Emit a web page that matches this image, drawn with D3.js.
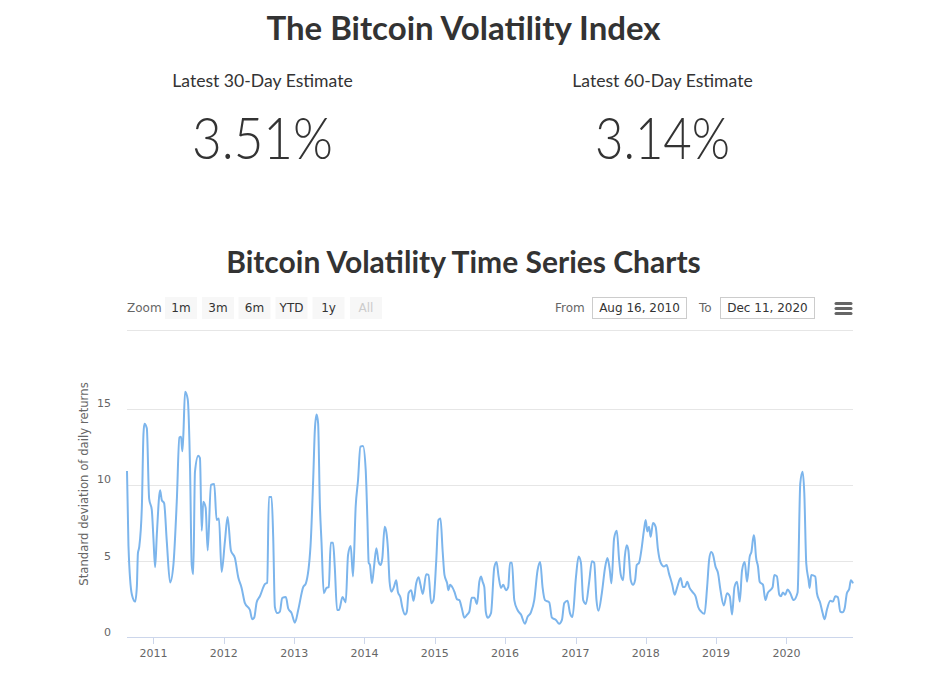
<!DOCTYPE html>
<html><head><meta charset="utf-8">
<script src="https://cdn.jsdelivr.net/npm/d3@7"></script>
<style>
html,body{margin:0;padding:0;background:#fff;}
svg{display:block;}
</style></head>
<body>
<svg id="c" width="940" height="674"></svg>
<script>
// ---- data (decimal year, 30-day volatility %) ----
const years = [2010.624,2010.645,2010.694,2010.740,2010.765,2010.779,2010.797,2010.835,2010.858,2010.872,2010.906,2010.939,2010.977,2011.000,2011.024,2011.048,2011.095,2011.119,2011.152,2011.190,2011.237,2011.284,2011.332,2011.369,2011.393,2011.411,2011.426,2011.450,2011.488,2011.521,2011.545,2011.567,2011.591,2011.638,2011.662,2011.687,2011.709,2011.743,2011.772,2011.818,2011.865,2011.899,2011.932,2011.970,2012.017,2012.055,2012.102,2012.159,2012.206,2012.254,2012.301,2012.372,2012.404,2012.433,2012.467,2012.513,2012.584,2012.617,2012.641,2012.679,2012.702,2012.726,2012.759,2012.797,2012.830,2012.882,2012.915,2012.963,2013.010,2013.057,2013.128,2013.166,2013.233,2013.270,2013.294,2013.318,2013.340,2013.365,2013.389,2013.421,2013.460,2013.492,2013.520,2013.553,2013.577,2013.610,2013.638,2013.687,2013.733,2013.766,2013.804,2013.837,2013.875,2013.908,2013.942,2013.979,2014.017,2014.041,2014.060,2014.078,2014.106,2014.135,2014.169,2014.201,2014.230,2014.254,2014.287,2014.311,2014.333,2014.357,2014.382,2014.414,2014.452,2014.475,2014.513,2014.537,2014.580,2014.603,2014.627,2014.665,2014.698,2014.736,2014.769,2014.797,2014.830,2014.878,2014.911,2014.949,2014.982,2015.020,2015.052,2015.081,2015.113,2015.138,2015.176,2015.194,2015.218,2015.255,2015.279,2015.318,2015.350,2015.383,2015.421,2015.460,2015.492,2015.525,2015.563,2015.601,2015.634,2015.658,2015.681,2015.705,2015.726,2015.752,2015.800,2015.847,2015.879,2015.908,2015.942,2015.974,2016.013,2016.045,2016.070,2016.098,2016.131,2016.177,2016.226,2016.282,2016.319,2016.367,2016.414,2016.461,2016.499,2016.532,2016.566,2016.627,2016.665,2016.722,2016.769,2016.807,2016.840,2016.887,2016.921,2016.957,2017.006,2017.043,2017.077,2017.109,2017.148,2017.194,2017.233,2017.265,2017.298,2017.326,2017.374,2017.421,2017.454,2017.488,2017.511,2017.549,2017.587,2017.620,2017.644,2017.677,2017.701,2017.729,2017.752,2017.786,2017.818,2017.847,2017.871,2017.904,2017.936,2017.974,2017.998,2018.021,2018.045,2018.069,2018.102,2018.140,2018.173,2018.211,2018.258,2018.296,2018.329,2018.376,2018.410,2018.447,2018.495,2018.528,2018.556,2018.589,2018.623,2018.660,2018.708,2018.745,2018.787,2018.835,2018.872,2018.901,2018.929,2018.957,2018.991,2019.028,2019.062,2019.109,2019.156,2019.194,2019.227,2019.261,2019.298,2019.336,2019.369,2019.407,2019.440,2019.478,2019.502,2019.535,2019.549,2019.567,2019.596,2019.620,2019.667,2019.701,2019.733,2019.771,2019.804,2019.828,2019.865,2019.899,2019.922,2019.950,2019.984,2020.017,2020.055,2020.102,2020.159,2020.197,2020.230,2020.254,2020.282,2020.315,2020.329,2020.353,2020.410,2020.433,2020.481,2020.514,2020.542,2020.574,2020.623,2020.660,2020.694,2020.730,2020.765,2020.797,2020.826,2020.858,2020.892,2020.915,2020.945];
const vol30 = [10.9,6.0,2.8,2.35,3.4,5.5,5.9,8.5,13.3,14.0,13.7,9.1,8.35,6.5,4.6,6.7,9.65,9.0,8.8,6.3,3.6,4.75,8.9,13.1,13.15,12.2,13.3,16.1,15.6,11.1,4.75,4.15,10.85,11.9,11.75,7.0,8.9,8.5,5.7,10.0,10.05,7.7,7.8,4.3,6.3,7.9,5.7,5.2,3.95,3.25,2.25,1.8,1.2,1.3,2.3,2.7,3.5,3.6,9.2,9.2,6.6,2.0,1.6,1.7,2.6,2.65,1.9,1.6,0.97,1.8,3.3,3.55,6.05,10.3,13.6,14.6,14.05,8.8,6.2,2.9,3.25,3.3,6.2,6.2,4.65,1.8,1.8,2.65,2.3,5.4,6.0,4.0,8.6,10.3,12.5,12.55,11.0,7.8,4.9,4.75,3.55,4.6,5.85,4.95,4.75,5.2,7.25,6.9,5.85,3.65,3.0,3.25,3.75,3.0,2.6,2.0,1.5,1.7,2.9,3.1,2.4,3.55,3.95,3.45,2.85,4.15,4.1,2.25,2.45,4.95,7.7,7.8,5.6,4.1,3.55,3.1,3.45,3.25,3.0,2.5,2.45,1.95,1.3,1.5,1.7,2.6,2.6,2.2,3.65,4.0,3.65,3.3,1.7,1.3,1.6,4.6,4.95,4.0,3.25,3.45,3.1,3.3,4.9,4.9,2.45,1.8,1.5,0.9,1.35,1.65,2.45,4.4,4.95,3.3,2.45,2.3,1.3,1.15,0.9,1.15,2.25,2.4,1.6,1.35,3.95,5.3,4.9,2.45,2.2,3.65,5.0,4.9,2.45,1.75,2.9,4.6,5.2,4.4,3.55,6.5,7.0,5.1,4.1,3.75,5.3,6.05,5.7,3.75,3.45,3.75,4.75,4.9,5.7,7.05,7.7,6.95,7.25,6.6,7.5,7.25,5.75,4.9,4.65,4.75,4.2,3.45,2.8,3.3,3.9,3.3,3.3,3.65,3.25,3.0,2.7,2.0,1.7,1.55,3.3,5.1,5.6,5.4,4.65,4.2,3.1,2.1,2.9,2.7,1.5,3.3,3.65,2.35,4.4,4.95,3.65,5.3,5.6,6.7,6.4,5.3,4.65,3.65,3.45,2.45,2.9,3.1,3.3,4.1,4.0,2.8,2.7,2.95,2.8,3.15,2.9,2.45,2.95,10.1,10.85,9.45,4.85,3.75,3.25,4.1,4.0,2.9,2.25,1.6,1.2,1.8,2.4,2.35,2.7,2.65,1.7,1.65,1.9,2.9,3.2,3.75,3.55];
const yTicks = [0,5,10,15];
const xTickYears = [2011,2012,2013,2014,2015,2016,2017,2018,2019,2020];
const zoomButtons = ["1m","3m","6m","YTD","1y","All"];
const fromDate = "Aug 16, 2010";
const toDate = "Dec 11, 2020";
const estimates = [{label:"Latest 30-Day Estimate", value:"3.51%"},{label:"Latest 60-Day Estimate", value:"3.14%"}];

function decToDate(d){
  const y = Math.floor(d);
  const s = new Date(y,0,1), e = new Date(y+1,0,1);
  return new Date(s.getTime() + (d - y) * (e - s));
}
const data = years.map((y,i)=>({date:decToDate(y), v:vol30[i]}));

const svg = d3.select("#c");
const headFont = "Lato, 'Open Sans', sans-serif";
const hcFont = "'DejaVu Sans', 'Lucida Grande', sans-serif";

svg.append("text").attr("x",463.5).attr("y",40).attr("text-anchor","middle")
  .attr("font-family",headFont).attr("font-weight",700).attr("font-size",33).attr("fill","#333")
  .text("The Bitcoin Volatility Index");

const estX = [262.5,662.5];
const valW = [141,135];
estimates.forEach((e,i)=>{
  svg.append("text").attr("x",estX[i]).attr("y",87).attr("text-anchor","middle")
    .attr("font-family",headFont).attr("font-size",17.6).attr("fill","#333").text(e.label);
  svg.append("text").attr("x",estX[i]).attr("y",159).attr("text-anchor","middle")
    .attr("font-family",headFont).attr("font-weight",300).attr("font-size",58).attr("fill","#333")
    .attr("textLength",valW[i]).attr("lengthAdjust","spacingAndGlyphs").text(e.value);
});

svg.append("text").attr("x",463.5).attr("y",273).attr("text-anchor","middle")
  .attr("font-family",headFont).attr("font-weight",700).attr("font-size",30).attr("fill","#333")
  .text("Bitcoin Volatility Time Series Charts");

// range selector
svg.append("text").attr("x",127).attr("y",312).attr("font-family",hcFont).attr("font-size",12).attr("fill","#666").text("Zoom");
const btnX = [165,202,238.5,275.5,312.5,350];
zoomButtons.forEach((b,i)=>{
  svg.append("rect").attr("x",btnX[i]).attr("y",297).attr("width",32).attr("height",22).attr("fill","#f7f7f7");
  svg.append("text").attr("x",btnX[i]+16).attr("y",312).attr("text-anchor","middle").attr("font-family",hcFont)
    .attr("font-size",12).attr("fill", b==="All" ? "#ccc" : "#333").text(b);
});
svg.append("text").attr("x",555).attr("y",312).attr("font-family",hcFont).attr("font-size",12).attr("fill","#666").text("From");
svg.append("rect").attr("x",592.5).attr("y",297.5).attr("width",94).attr("height",21).attr("fill","#fff").attr("stroke","#ccc");
svg.append("text").attr("x",639.5).attr("y",312).attr("text-anchor","middle").attr("font-family",hcFont).attr("font-size",12).attr("fill","#333").text(fromDate);
svg.append("text").attr("x",699).attr("y",312).attr("font-family",hcFont).attr("font-size",12).attr("fill","#666").text("To");
svg.append("rect").attr("x",720.5).attr("y",297.5).attr("width",94).attr("height",21).attr("fill","#fff").attr("stroke","#ccc");
svg.append("text").attr("x",767.5).attr("y",312).attr("text-anchor","middle").attr("font-family",hcFont).attr("font-size",12).attr("fill","#333").text(toDate);
[303.5,308.5,313.5].forEach(yy=>{
  svg.append("line").attr("x1",836).attr("x2",851).attr("y1",yy).attr("y2",yy).attr("stroke","#666").attr("stroke-width",3).attr("stroke-linecap","round");
});
svg.append("line").attr("x1",127).attr("x2",853).attr("y1",330.5).attr("y2",330.5).attr("stroke","#e6e6e6");

// chart
const x = d3.scaleTime().domain([decToDate(2010.624), decToDate(2020.945)]).range([127,853]);
const y = d3.scaleLinear().domain([0,15]).range([637.5,408.5]);

const g = svg.append("g");
g.selectAll(".grid").data(yTicks.filter(t=>t>0)).join("line")
  .attr("x1",127).attr("x2",853).attr("y1",d=>Math.round(y(d))+0.5).attr("y2",d=>Math.round(y(d))+0.5)
  .attr("stroke","#e6e6e6");
g.selectAll(".yl").data(yTicks).join("text")
  .attr("x",111).attr("y",d=>y(d)-1.5).attr("text-anchor","end").attr("font-family",hcFont)
  .attr("font-size",11).attr("fill","#666").text(d=>d);
g.append("line").attr("x1",127).attr("x2",853).attr("y1",637.5).attr("y2",637.5).attr("stroke","#ccd6eb");
const tickDates = xTickYears.map(yr=>new Date(yr,0,1));
g.selectAll(".xt").data(tickDates).join("line")
  .attr("x1",d=>Math.round(x(d))+0.5).attr("x2",d=>Math.round(x(d))+0.5).attr("y1",637.5).attr("y2",644)
  .attr("stroke","#ccd6eb");
g.selectAll(".xl").data(tickDates).join("text")
  .attr("x",d=>x(d)).attr("y",657).attr("text-anchor","middle").attr("font-family",hcFont)
  .attr("font-size",11).attr("fill","#666").text(d=>d3.timeFormat("%Y")(d));

svg.append("text").attr("transform","translate(88,484) rotate(-90)").attr("text-anchor","middle")
  .attr("font-family",hcFont).attr("font-size",11.7).attr("fill","#666").text("Standard deviation of daily returns");

const line = d3.line().x(d=>x(d.date)).y(d=>y(d.v)).curve(d3.curveMonotoneX);
g.append("path").datum(data).attr("d",line).attr("fill","none").attr("stroke","#7cb5ec").attr("stroke-width",2)
  .attr("stroke-linejoin","round");
</script>
</body></html>
